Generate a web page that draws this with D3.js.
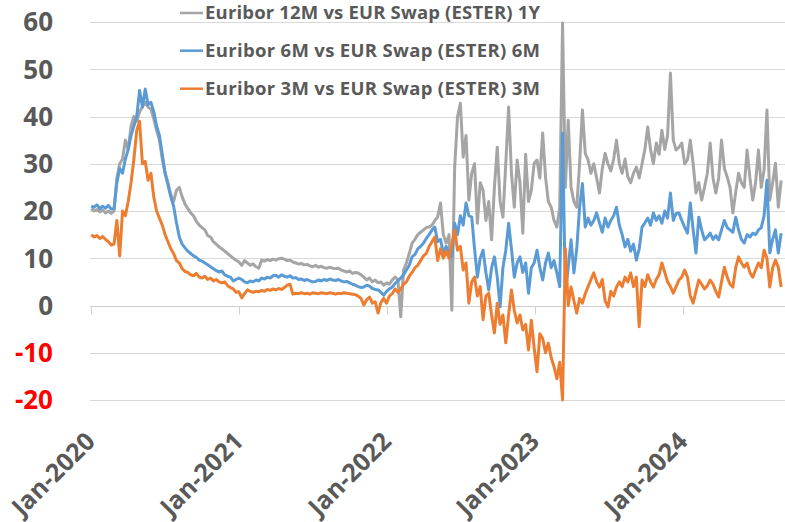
<!DOCTYPE html>
<html>
<head>
<meta charset="utf-8">
<!-- load the d3.js library -->
<script src="https://cdn.jsdelivr.net/npm/d3@7"></script>
<style>
body { margin: 0; background: #fff; }
svg { font-family: "Open Sans", sans-serif; }
.series {
  fill: none;
  stroke-width: 3px;
  stroke-linejoin: round;
}
</style>
</head>
<body>
<div id="svgcontainer"></div>
<script>
  // weekly observations, first one on 3 Jan 2020
  var startDate = new Date(2020, 0, 3);

  var s12m = [
    20.5, 20, 20.3, 19.8, 20.2, 19.6, 20, 19.5, 20, 27,
    30, 31, 35, 33, 38, 40, 39, 41, 42, 43,
    42, 41.5, 39.5, 37, 35, 31, 28, 26, 23.5, 22,
    24.4, 25, 23, 21.5, 20.5, 19.6, 19, 17.8, 17, 16.5,
    16, 14.8, 14.5, 13.5, 13, 12.4, 12, 11.5, 11, 10.5,
    10, 9.6, 9.2, 8.5, 9.5, 9, 8.5, 8.8, 8.2, 7.9,
    9.6, 9.4, 9.7, 9.5, 9.8, 9.6, 9.9, 10, 9.8, 9.5,
    9.6, 9.2, 9, 8.8, 8.9, 8.6, 8.7, 8.4, 8.2, 8.5,
    8.1, 8.3, 8, 7.9, 8.1, 7.9, 7.8, 7.9, 7.5, 7.3,
    7.1, 7.3, 6.8, 7, 6.9, 6.5, 6, 5.4, 5.8, 5,
    5.4, 4.8, 5, 4.3, 4.8, 4.5, 5.4, 6, 5.5, -2.4,
    7.5, 9, 11, 13.2, 14, 15, 15.5, 16, 16.5, 16.6,
    17, 18, 18.7, 21.7, 15, 13.2, 15, -1, 29.3, 39.9,
    42.8, 31.4, 36, 22.3, 28, 30, 17.4, 26, 24.4, 18,
    22, 13.9, 25, 33.5, 22, 18.7, 30, 42, 28, 20.8,
    30.8, 26, 15.3, 32, 22, 24.4, 30.1, 30.8, 27, 36.5,
    27.2, 22, 20.8, 18, 16.6, 20.8, 59.8, 25, 39.2, 25,
    22, 20.8, 30, 41.4, 32.2, 30.8, 28, 30, 27, 23.8,
    29, 32.2, 30, 28.5, 31, 35, 30, 28, 31, 27.2,
    26, 28, 29.3, 27, 30, 33, 37.8, 33, 30, 34.4,
    32, 37.1, 33, 36, 49.2, 35, 32.9, 33.5, 34.4, 30,
    30.8, 35, 30, 23.8, 26, 22.3, 25, 28, 34.4, 27,
    23.8, 27, 35, 29, 27.2, 25, 19.6, 24, 28, 26,
    25, 32.9, 27, 22.3, 26, 32.9, 25, 28.7, 41.4, 22.3,
    26, 30.1, 20.8, 26.5
  ];

  var s6m = [
    21, 20.8, 21.3, 20.5, 21, 20.6, 21.2, 20.4, 20.5, 26,
    29, 28, 31, 33, 36, 38, 40, 45.5, 42, 45.8,
    42.5, 43, 41, 38, 36, 32, 28, 25.5, 23, 21,
    17.5, 14.5, 13, 12.2, 11.5, 11, 10.5, 10.2, 9.6, 9.4,
    9, 8.6, 8.2, 7.8, 7.4, 7.1, 7.3, 6.5, 6.2, 6,
    5.2, 5.5, 5.8, 5.5, 5, 4.8, 5.2, 5, 5.4, 5.2,
    5.8, 5.6, 6, 5.8, 6.3, 6.4, 6, 6.5, 6.2, 6,
    6.3, 5.8, 5.9, 5.5, 5.6, 5.3, 5.5, 5.2, 5, 5.1,
    5.4, 5.2, 5.5, 5.3, 5.6, 5.4, 5.3, 5.5, 5.2, 5,
    5.1, 4.8, 4.5, 4.3, 4, 3.8, 3.9, 4.3, 4.1, 3.6,
    3.4, 3.3, 2.8, 2.2, 3, 3.5, 3.9, 4.7, 5.2, 5.8,
    6.5, 7.5, 8.5, 10.3, 10.8, 12, 12.5, 13.2, 14.2, 15,
    16, 16.6, 13.5, 14, 11.1, 12.5, 11, 10.3, 17.4, 15,
    19, 17, 21.7, 19, 18.7, 12, 6, 10, 11.7, 7,
    3.3, 8, 10.3, 6, -0.3, 8, 11.7, 17.4, 12, 6,
    9, 10.3, 7, 9, 2.6, 8, 9, 11.7, 8, 5.4,
    9, 11.1, 8, 9.5, 6.9, 4, 36.5, 2.6, 8.1, 13.9,
    6.9, 12, 20.8, 25.8, 16.6, 18.5, 17, 18, 19.6, 17.5,
    15.5, 18.5, 16.6, 18, 19, 20.8, 17, 15, 12.4, 14,
    11.5, 13, 9.6, 12, 16.6, 17.5, 18.5, 17, 19.6, 18,
    19, 17.4, 20, 18.5, 23.8, 18, 19.5, 19.6, 18, 16.6,
    15.3, 21.7, 16, 11.1, 18.7, 16, 13.9, 14.5, 15.3, 14,
    14.8, 13.9, 16, 18, 16.5, 16, 15.5, 18.7, 16, 14,
    13.2, 15, 14.5, 15.3, 15, 16, 16.5, 19, 26.5, 11.1,
    14, 16, 11.1, 15.3
  ];

  var s3m = [
    15, 14.5, 14.8, 14.2, 14.6, 14, 13.5, 12.8, 13, 18,
    10.5, 20, 19, 22, 26, 31, 37, 39, 30, 30.5,
    26.5, 28, 23, 20, 18.5, 17, 15, 13.5, 12, 11,
    9.5, 9, 7.8, 7.2, 7, 6.5, 6.3, 6.8, 6, 5.8,
    6.2, 5.5, 5.8, 5.2, 5.5, 5, 4.8, 5, 4.2, 3.8,
    3.5, 2.8, 2.9, 1.6, 2.5, 3.3, 3, 2.8, 3, 2.9,
    3.2, 3, 3.4, 3.2, 3.5, 3.3, 3.6, 3.4, 3.8, 4.3,
    4.5, 2.4, 2.6, 2.5, 2.7, 2.5, 2.6, 2.4, 2.7, 2.6,
    2.5, 2.7, 2.6, 2.5, 2.7, 2.6, 2.4, 2.6, 2.5, 2.7,
    2.6, 2.5, 2.4, 2.3, 2, 1.5, 0.1, 1.2, 1.8, 0.5,
    0.8, -1.6, 0.6, 1.5, 0.5, 2, 2.5, 3.5, 2.8, 3.5,
    4.5, 5, 6.2, 7, 8, 8.5, 9.5, 10.5, 11, 12.5,
    13.5, 14.5, 9.5, 12, 10, 11.5, 10, 13, 16, 11.7,
    12.5, 7.5, 9, 0.5, 5, 6, 2, 4, -3, 2,
    2.6, -2, -5.8, 0.5, -4, -2, -7.9, -2, 3.3, -1,
    -3.7, -2, -5.2, -4, -9.4, -3.1, -9, -14, -6, -7,
    -10, -8, -11, -13, -15.5, -12, -20, 12, 0, 3.9,
    1, -1.6, 1.5, 0.5, 2.5, 4, 5.5, 6.9, 5, 3.9,
    5.5, 1, -0.3, 3, 2, 3.9, 5, 4, 6, 5,
    6.9, 4, 6, -4.5, 5.4, 4, 6.5, 5, 3.9, 5.5,
    6.5, 9, 7, 5, 4, 2.6, 4, 5.4, 6, 7.5,
    6, 2, 0.5, 3, 5.4, 4.5, 3.5, 4.2, 5.4, 4.5,
    3, 1.8, 5, 8.1, 6, 4.5, 3.9, 8, 10.3, 9,
    8.1, 9, 7, 6, 7.5, 9, 8, 11.7, 10, 3.9,
    8, 9.6, 8.1, 3.9
  ];

  var seriesNames = ["Euribor 12M vs EUR Swap (ESTER) 1Y",
                     "Euribor 6M vs EUR Swap (ESTER) 6M",
                     "Euribor 3M vs EUR Swap (ESTER) 3M"];
  var seriesColors = ["#a5a5a5", "#5b9bd5", "#ed7d31"];
  var yTicks = [-20, -10, 0, 10, 20, 30, 40, 50, 60];
  var xTicks = [new Date(2020, 0, 1), new Date(2021, 0, 1), new Date(2022, 0, 1),
                new Date(2023, 0, 1), new Date(2024, 0, 1)];

  var width = 785;
  var height = 522;
  var svg = d3.select("#svgcontainer")
              .append("svg")
              .attr("width", width)
              .attr("height", height);

  var x = d3.scaleTime()
            .domain([new Date(2020, 0, 1), new Date(2024, 0, 1)])
            .range([90.5, 683]);
  var y = d3.scaleLinear()
            .domain([-20, 60])
            .range([400, 22]);

  // horizontal gridlines (zero is drawn as the axis)
  svg.append("g")
     .selectAll("line")
     .data(yTicks.filter(function(d) { return d != 0; }))
     .enter().append("line")
     .attr("x1", 90)
     .attr("x2", width)
     .attr("y1", function(d) { return Math.round(y(d)) + 0.5; })
     .attr("y2", function(d) { return Math.round(y(d)) + 0.5; })
     .style("stroke", "#d9d9d9")
     .style("stroke-width", 1);

  var y0 = Math.round(y(0)) + 0.5;
  svg.append("line")
     .attr("x1", 90).attr("x2", width)
     .attr("y1", y0).attr("y2", y0)
     .style("stroke", "#d0d0d0")
     .style("stroke-width", 1);
  svg.append("g")
     .selectAll("line")
     .data(xTicks)
     .enter().append("line")
     .attr("x1", function(d) { return Math.round(x(d)) + 0.5; })
     .attr("x2", function(d) { return Math.round(x(d)) + 0.5; })
     .attr("y1", y0)
     .attr("y2", y0 + 8)
     .style("stroke", "#d0d0d0")
     .style("stroke-width", 1);

  // y labels
  svg.append("g")
     .selectAll("text")
     .data(yTicks)
     .enter().append("text")
     .attr("x", 53)
     .attr("y", function(d) { return y(d); })
     .attr("dy", "0.36em")
     .attr("text-anchor", "end")
     .style("font-size", "26px")
     .style("font-weight", "bold")
     .style("fill", function(d) { return d < 0 ? "#ff0000" : "#595959"; })
     .text(function(d) { return d; });

  // x labels, rotated
  var fmt = d3.timeFormat("%b-%Y");
  svg.append("g")
     .selectAll("text")
     .data(xTicks)
     .enter().append("text")
     .attr("transform", function(d) { return "translate(" + (x(d) + 6) + ",443) rotate(-45)"; })
     .attr("text-anchor", "end")
     .style("font-size", "25px")
     .style("font-weight", "bold")
     .style("fill", "#595959")
     .text(function(d) { return fmt(d); });

  // lines
  var allSeries = [s12m, s6m, s3m];
  var line = d3.line()
               .x(function(d, i) { return x(d3.timeDay.offset(startDate, 7 * i)); })
               .y(function(d) { return y(d); });
  svg.append("g")
     .selectAll("path")
     .data(allSeries)
     .enter().append("path")
     .attr("class", "series")
     .attr("d", line)
     .style("stroke", function(d, i) { return seriesColors[i]; });

  // legend
  var legendY = [13, 50.7, 88.7];
  var legend = svg.append("g")
                  .selectAll("g")
                  .data(seriesNames)
                  .enter().append("g");
  legend.append("line")
        .attr("x1", 180).attr("x2", 203)
        .attr("y1", function(d, i) { return legendY[i]; })
        .attr("y2", function(d, i) { return legendY[i]; })
        .style("stroke", function(d, i) { return seriesColors[i]; })
        .style("stroke-width", 2.5);
  legend.append("text")
        .attr("x", 205)
        .attr("y", function(d, i) { return legendY[i] + 6; })
        .attr("textLength", 335)
        .attr("lengthAdjust", "spacing")
        .style("font-size", "18.5px")
        .style("font-weight", "bold")
        .style("fill", "#595959")
        .text(function(d) { return d; });
</script>
</body>
</html>
